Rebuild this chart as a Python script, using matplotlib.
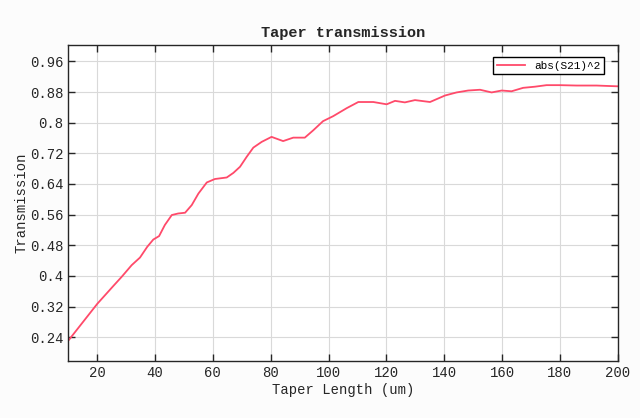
import matplotlib
matplotlib.use('Agg')
import matplotlib.pyplot as plt
from matplotlib.ticker import FuncFormatter

# Taper length (um) and transmission values
taper_len = [10, 20, 25.6, 28.5, 31.9, 34.8, 37.3, 39.4, 41.4, 43.4, 45.8, 48.0,
             50.4, 52.7, 55.0, 57.9, 60.7, 64.8, 67.1, 69.4, 71.7, 74.0, 76.9,
             80.3, 84.3, 87.8, 91.8, 94.7, 98.1, 101.6, 106.3, 110.3, 115.5,
             120.1, 123.0, 126.4, 129.9, 135.1, 140.3, 144.3, 148.3, 152.4,
             156.4, 159.9, 163.3, 167.3, 171.4, 175.4, 180.0, 185.8, 192.7,
             196.2, 200]
transmission = [0.231, 0.327, 0.374, 0.398, 0.428, 0.448, 0.476, 0.495, 0.504,
                0.533, 0.559, 0.563, 0.565, 0.585, 0.615, 0.644, 0.653, 0.657,
                0.669, 0.685, 0.711, 0.735, 0.750, 0.763, 0.752, 0.761, 0.761,
                0.780, 0.804, 0.817, 0.838, 0.854, 0.854, 0.848, 0.857, 0.853,
                0.859, 0.854, 0.871, 0.879, 0.884, 0.886, 0.879, 0.884, 0.882,
                0.891, 0.894, 0.898, 0.898, 0.897, 0.897, 0.896, 0.895]

xticks = list(range(20, 201, 20))
yticks = [0.24, 0.32, 0.40, 0.48, 0.56, 0.64, 0.72, 0.80, 0.88, 0.96]

plt.rcParams['font.family'] = ['Liberation Mono', 'DejaVu Sans Mono']

fig = plt.figure(figsize=(6.4, 4.18), dpi=100, facecolor='#fcfcfc')
ax = fig.add_axes([0.1067, 0.1364, 0.8584, 0.7552])
ax.set_facecolor('white')

ax.plot(taper_len, transmission, color='#ff4a6a', linewidth=1.3, label='abs(S21)^2')

ax.set_xlim(10, 200)
ax.set_ylim(0.178, 1.002)
ax.set_xticks(xticks)
ax.set_yticks(yticks)
ax.yaxis.set_major_formatter(FuncFormatter(lambda v, p: ('%.2f' % v).rstrip('0')))

ax.grid(True, color='#d9d9d9', linewidth=0.8)
ax.set_axisbelow(True)
ax.tick_params(direction='in', length=5, width=1, top=True, right=True,
               labelsize=10, colors='#262626')
for s in ax.spines.values():
    s.set_color('#262626')
    s.set_linewidth(1)

ax.set_title('Taper transmission', fontsize=11, fontweight='bold', color='#262626', pad=6)
ax.set_xlabel('Taper Length (um)', fontsize=10, color='#262626', labelpad=2)
ax.set_ylabel('Transmission', fontsize=10, color='#262626', labelpad=1)

leg = ax.legend(loc='upper right', fontsize=8, fancybox=False, framealpha=1,
                edgecolor='black', handlelength=2.6, borderpad=0.3,
                bbox_to_anchor=(0.985, 0.98))
leg.get_frame().set_linewidth(1)

fig.savefig('out.png', dpi=100, facecolor=fig.get_facecolor())
